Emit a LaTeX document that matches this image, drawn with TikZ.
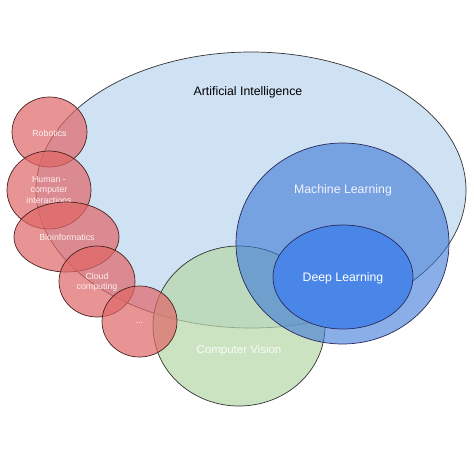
\documentclass[tikz,border=0pt]{standalone}
\usepackage{fontspec}
\setmainfont{Liberation Sans}
\definecolor{aiblue}{HTML}{CFE2F3}
\definecolor{mlblue}{HTML}{3C78D8}
\definecolor{dlblue}{HTML}{4A86E8}
\definecolor{cvgreen}{HTML}{B6D7A8}
\definecolor{redc}{HTML}{E06666}
\definecolor{edge}{HTML}{333333}
\definecolor{redge}{HTML}{4A2222}
\begin{document}
\begin{tikzpicture}[x=1pt,y=-1pt,
  lbl/.style={font=\fontsize{12.3}{14}\selectfont},
  redblob/.style={draw=redge, line width=0.7pt, fill=redc, fill opacity=0.7},
  redlbl/.style={text=white!94!red, font=\fontsize{8.8}{10.5}\selectfont, align=center},
]
\useasboundingbox (0,0) rectangle (474,452);
% Artificial Intelligence
\draw[draw=edge, line width=0.7pt, fill=aiblue] (251,190) ellipse [x radius=215, y radius=138];
\node[lbl, text=black] (ai) at (248,92) {Artificial Intelligence};
% Computer Vision
\draw[draw=edge, line width=0.7pt, fill=cvgreen, fill opacity=0.7] (239,326) ellipse [x radius=86, y radius=80];
\node[font=\fontsize{11.5}{14}\selectfont, text=white!92!cvgreen] (cv) at (239,351) {Computer Vision};
% Machine Learning
\draw[draw=edge!80!blue, line width=0.7pt, fill=mlblue, fill opacity=0.6] (342.5,243.5) ellipse [x radius=106.5, y radius=100.5];
\node[lbl, text=white!95!blue] (ml) at (343,190) {Machine Learning};
% Deep Learning
\draw[draw=edge!80!blue, line width=0.7pt, fill=dlblue] (343,277) ellipse [x radius=70, y radius=52];
\node[lbl, text=white] (dl) at (343,278) {Deep Learning};
% Red circles
\draw[redblob] (49.5,132) ellipse [x radius=37.5, y radius=35];
\node[redlbl] (rob) at (49.5,133) {Robotics};
\draw[redblob] (49,190) ellipse [x radius=42, y radius=39];
\node[redlbl] (hci) at (49,190) {Human -\\computer\\interactions};
\draw[redblob] (66.5,237) ellipse [x radius=52.5, y radius=35];
\node[redlbl] (bio) at (67,237) {Bioinformatics};
\draw[redblob] (97,281.5) ellipse [x radius=38, y radius=35.5];
\node[redlbl] (cloud) at (97,282) {Cloud\\computing};
\draw[redblob] (139.5,321.5) ellipse [x radius=37.5, y radius=35.5];
\node[redlbl] (etc) at (139.5,323) {...};
\end{tikzpicture}
\end{document}
